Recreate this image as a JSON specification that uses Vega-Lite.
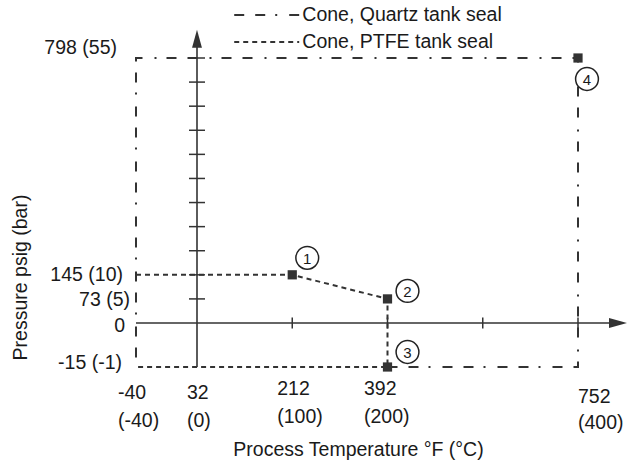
{
  "$schema": "https://vega.github.io/schema/vega-lite/v6.json",
  "width": 632,
  "height": 465,
  "padding": 0,
  "autosize": {"type": "none"},
  "background": "white",
  "config": {
    "view": {"stroke": null},
    "font": "Liberation Sans",
    "axis": {"grid": false},
    "text": {"font": "Liberation Sans", "fontSize": 19.5, "color": "#1a1a1a"}
  },
  "datasets": {
    "lines": [
      {"seal": "Cone, Quartz tank seal", "i": 1, "t": 200, "p": -1},
      {"seal": "Cone, Quartz tank seal", "i": 2, "t": 400, "p": -1},
      {"seal": "Cone, Quartz tank seal", "i": 3, "t": 400, "p": 55},
      {"seal": "Cone, Quartz tank seal", "i": 4, "t": -40, "p": 55},
      {"seal": "Cone, Quartz tank seal", "i": 5, "t": -40, "p": -1},
      {"seal": "Cone, PTFE tank seal", "i": 1, "t": -40, "p": 10},
      {"seal": "Cone, PTFE tank seal", "i": 2, "t": 100, "p": 10},
      {"seal": "Cone, PTFE tank seal", "i": 3, "t": 200, "p": 5},
      {"seal": "Cone, PTFE tank seal", "i": 4, "t": 200, "p": -1},
      {"seal": "Cone, PTFE tank seal", "i": 5, "t": -40, "p": -1}
    ],
    "points": [
      {"n": "1", "t": 100, "p": 10},
      {"n": "2", "t": 200, "p": 5},
      {"n": "3", "t": 200, "p": -1},
      {"n": "4", "t": 400, "p": 55}
    ],
    "axes": [
      {"a": "x", "t": -40, "t2": 442, "p": 0, "p2": 0},
      {"a": "y", "t": 0, "t2": 0, "p": -1, "p2": 59}
    ],
    "arrows": [
      {"a": "x", "t": 442, "p": 0, "dir": 90},
      {"a": "y", "t": 0, "p": 59, "dir": 0}
    ],
    "yticks": [
      {"t": 0, "p": 5}, {"t": 0, "p": 10}, {"t": 0, "p": 15}, {"t": 0, "p": 20},
      {"t": 0, "p": 25}, {"t": 0, "p": 30}, {"t": 0, "p": 35}, {"t": 0, "p": 40},
      {"t": 0, "p": 45}, {"t": 0, "p": 50}, {"t": 0, "p": 55}
    ],
    "xticks": [
      {"t": 100, "p": 0}, {"t": 200, "p": 0}, {"t": 300, "p": 0}, {"t": 400, "p": 0}
    ],
    "ylabels": [
      {"k": "a", "t": -40, "p": 55, "lab": "798 (55)"},
      {"k": "b", "t": -40, "p": 10, "lab": "145 (10)"},
      {"k": "c", "t": -40, "p": 5, "lab": "73 (5)"},
      {"k": "d", "t": -40, "p": 0, "lab": "0"},
      {"k": "e", "t": -40, "p": -1, "lab": "-15 (-1)"}
    ],
    "xlabels": [
      {"k": "a", "t": -40, "p": -1, "lab": "-40\n(-40)"},
      {"k": "b", "t": 0, "p": -1, "lab": "32\n(0)"},
      {"k": "c", "t": 100, "p": -1, "lab": "212\n(100)"},
      {"k": "d", "t": 200, "p": -1, "lab": "392\n(200)"},
      {"k": "e", "t": 400, "p": -1, "lab": "752\n(400)"}
    ]
  },
  "layer": [
    {
      "data": {"name": "axes"},
      "mark": {"type": "rule", "strokeWidth": 1.6, "color": "#333333"},
      "encoding": {
        "x": {"field": "t", "type": "quantitative"},
        "x2": {"field": "t2"},
        "y": {"field": "p", "type": "quantitative"},
        "y2": {"field": "p2"}
      }
    },
    {
      "data": {"name": "arrows"},
      "mark": {"type": "point", "shape": "M0,-1L-0.55,1L0.55,1Z", "filled": true, "size": 324, "color": "#333333", "opacity": 1},
      "encoding": {
        "x": {"field": "t", "type": "quantitative"},
        "y": {"field": "p", "type": "quantitative"},
        "angle": {"field": "dir", "type": "quantitative", "scale": null}
      }
    },
    {
      "data": {"name": "yticks"},
      "mark": {"type": "tick", "orient": "horizontal", "size": 16, "thickness": 1.5, "color": "#333333", "opacity": 1},
      "encoding": {
        "x": {"field": "t", "type": "quantitative"},
        "y": {"field": "p", "type": "quantitative"}
      }
    },
    {
      "data": {"name": "xticks"},
      "mark": {"type": "tick", "orient": "vertical", "size": 11, "thickness": 1.5, "color": "#333333", "opacity": 1},
      "encoding": {
        "x": {"field": "t", "type": "quantitative"},
        "y": {"field": "p", "type": "quantitative"}
      }
    },
    {
      "data": {"name": "lines"},
      "mark": {"type": "line", "strokeWidth": 2, "color": "#333333"},
      "encoding": {
        "x": {
          "field": "t", "type": "quantitative",
          "scale": {"domain": [-40, 0, 400], "range": [136, 197, 578], "nice": false, "zero": false},
          "axis": {"domain": false, "ticks": false, "labels": false, "title": "Process Temperature °F (°C)",
                   "titleFont": "Liberation Sans", "titleFontSize": 19.5, "titleFontWeight": "normal", "titleColor": "#1a1a1a",
                   "titleX": 358, "titleY": -16, "titleAlign": "center", "titleBaseline": "middle"}
        },
        "y": {
          "field": "p", "type": "quantitative",
          "scale": {"domain": [-1, 0, 55], "range": [367, 323, 58], "nice": false, "zero": false},
          "axis": {"domain": false, "ticks": false, "labels": false, "title": "Pressure psig (bar)",
                   "titleFont": "Liberation Sans", "titleFontSize": 19.5, "titleFontWeight": "normal", "titleColor": "#1a1a1a",
                   "titleX": 20, "titleY": 277, "titleAngle": -90, "titleAlign": "center", "titleBaseline": "middle"}
        },
        "strokeDash": {
          "field": "seal", "type": "nominal",
          "scale": {"domain": ["Cone, Quartz tank seal", "Cone, PTFE tank seal"], "range": [[10, 11, 10, 10, 2, 12], [5, 4]]},
          "legend": {
            "orient": "none", "legendX": 254.7, "legendY": 3, "title": null, "padding": 0,
            "symbolType": "M-3,0H3", "symbolSize": 469, "symbolStrokeWidth": 2, "symbolStrokeColor": "#333333",
            "labelFont": "Liberation Sans", "labelFontSize": 19.5, "labelColor": "#1a1a1a", "labelOffset": 23.6,
            "labelLimit": 400, "rowPadding": 5
          }
        },
        "order": {"field": "i", "type": "quantitative"}
      }
    },
    {
      "data": {"name": "points"},
      "mark": {"type": "point", "shape": "square", "filled": true, "size": 85, "color": "#333333", "opacity": 1},
      "encoding": {
        "x": {"field": "t", "type": "quantitative"},
        "y": {"field": "p", "type": "quantitative"}
      }
    },
    {
      "data": {"name": "points"},
      "transform": [{"filter": "datum.n == '1'"}],
      "layer": [
        {"mark": {"type": "point", "shape": "circle", "fill": "white", "stroke": "#222222", "strokeWidth": 1.5, "size": 520, "opacity": 1, "xOffset": 15, "yOffset": -17}},
        {"mark": {"type": "text", "fontSize": 15, "align": "center", "baseline": "middle", "dx": 15, "dy": -16}, "encoding": {"text": {"field": "n"}}}
      ],
      "encoding": {
        "x": {"field": "t", "type": "quantitative"},
        "y": {"field": "p", "type": "quantitative"}
      }
    },
    {
      "data": {"name": "points"},
      "transform": [{"filter": "datum.n == '2'"}],
      "layer": [
        {"mark": {"type": "point", "shape": "circle", "fill": "white", "stroke": "#222222", "strokeWidth": 1.5, "size": 520, "opacity": 1, "xOffset": 20, "yOffset": -8}},
        {"mark": {"type": "text", "fontSize": 15, "align": "center", "baseline": "middle", "dx": 20, "dy": -7}, "encoding": {"text": {"field": "n"}}}
      ],
      "encoding": {
        "x": {"field": "t", "type": "quantitative"},
        "y": {"field": "p", "type": "quantitative"}
      }
    },
    {
      "data": {"name": "points"},
      "transform": [{"filter": "datum.n == '3'"}],
      "layer": [
        {"mark": {"type": "point", "shape": "circle", "fill": "white", "stroke": "#222222", "strokeWidth": 1.5, "size": 520, "opacity": 1, "xOffset": 20, "yOffset": -15}},
        {"mark": {"type": "text", "fontSize": 15, "align": "center", "baseline": "middle", "dx": 20, "dy": -14}, "encoding": {"text": {"field": "n"}}}
      ],
      "encoding": {
        "x": {"field": "t", "type": "quantitative"},
        "y": {"field": "p", "type": "quantitative"}
      }
    },
    {
      "data": {"name": "points"},
      "transform": [{"filter": "datum.n == '4'"}],
      "layer": [
        {"mark": {"type": "point", "shape": "circle", "fill": "white", "stroke": "#222222", "strokeWidth": 1.5, "size": 520, "opacity": 1, "xOffset": 9, "yOffset": 21}},
        {"mark": {"type": "text", "fontSize": 15, "align": "center", "baseline": "middle", "dx": 9, "dy": 22}, "encoding": {"text": {"field": "n"}}}
      ],
      "encoding": {
        "x": {"field": "t", "type": "quantitative"},
        "y": {"field": "p", "type": "quantitative"}
      }
    },
    {
      "data": {"name": "ylabels"},
      "layer": [
        {"transform": [{"filter": "datum.k == 'a'"}], "mark": {"type": "text", "align": "right", "baseline": "middle", "dx": -19, "dy": -10}},
        {"transform": [{"filter": "datum.k == 'b'"}], "mark": {"type": "text", "align": "right", "baseline": "middle", "dx": -13, "dy": 0}},
        {"transform": [{"filter": "datum.k == 'c'"}], "mark": {"type": "text", "align": "right", "baseline": "middle", "dx": -6, "dy": 1}},
        {"transform": [{"filter": "datum.k == 'd'"}], "mark": {"type": "text", "align": "right", "baseline": "middle", "dx": -11, "dy": 3}},
        {"transform": [{"filter": "datum.k == 'e'"}], "mark": {"type": "text", "align": "right", "baseline": "middle", "dx": -14, "dy": -4}}
      ],
      "encoding": {
        "x": {"field": "t", "type": "quantitative"},
        "y": {"field": "p", "type": "quantitative"},
        "text": {"field": "lab"}
      }
    },
    {
      "data": {"name": "xlabels"},
      "layer": [
        {"transform": [{"filter": "datum.k == 'a'"}], "mark": {"type": "text", "align": "left", "baseline": "top", "lineBreak": "\n", "lineHeight": 28, "dx": -18, "dy": 17}},
        {"transform": [{"filter": "datum.k == 'b'"}], "mark": {"type": "text", "align": "left", "baseline": "top", "lineBreak": "\n", "lineHeight": 28, "dx": -10, "dy": 17}},
        {"transform": [{"filter": "datum.k == 'c'"}], "mark": {"type": "text", "align": "left", "baseline": "top", "lineBreak": "\n", "lineHeight": 28, "dx": -15, "dy": 13}},
        {"transform": [{"filter": "datum.k == 'd'"}], "mark": {"type": "text", "align": "left", "baseline": "top", "lineBreak": "\n", "lineHeight": 28, "dx": -23.5, "dy": 13}},
        {"transform": [{"filter": "datum.k == 'e'"}], "mark": {"type": "text", "align": "left", "baseline": "top", "lineBreak": "\n", "lineHeight": 26, "dx": 0, "dy": 21}}
      ],
      "encoding": {
        "x": {"field": "t", "type": "quantitative"},
        "y": {"field": "p", "type": "quantitative"},
        "text": {"field": "lab"}
      }
    }
  ]
}
